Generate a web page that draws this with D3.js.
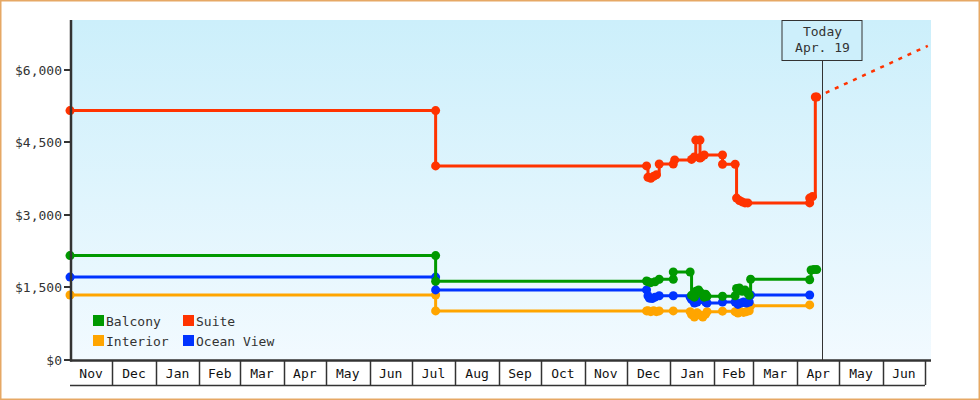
<!DOCTYPE html>
<html>
<head>
<meta charset="utf-8">
<script src="https://cdn.jsdelivr.net/npm/d3@7"></script>
<style>
  html, body { margin: 0; padding: 0; background: #fff; }
  svg { display: block; }
  text { font-family: "DejaVu Sans Mono", monospace; font-size: 13px; fill: #333; }
</style>
</head>
<body>
<svg id="chart" width="980" height="400"></svg>
<script>
// ---------- DATA ----------
const seriesNames = ["Balcony", "Suite", "Interior", "Ocean View"];
const seriesColors = ["#009900", "#ff3300", "#ffa500", "#0033ff"];

const balcony = [
  ["2011-11-01", 2160], ["2012-07-18", 2160], ["2012-07-18", 1630],
  ["2012-12-15", 1634], ["2012-12-16", 1620], ["2012-12-18", 1600], ["2012-12-21", 1620], ["2012-12-24", 1670],
  ["2013-01-03", 1670], ["2013-01-03", 1820],
  ["2013-01-15", 1820], ["2013-01-16", 1340], ["2013-01-18", 1300], ["2013-01-19", 1420], ["2013-01-21", 1450],
  ["2013-01-23", 1380], ["2013-01-25", 1300], ["2013-01-26", 1360], ["2013-01-27", 1320],
  ["2013-02-07", 1320], ["2013-02-16", 1330], ["2013-02-17", 1480], ["2013-02-19", 1490], ["2013-02-21", 1420],
  ["2013-02-23", 1450], ["2013-02-25", 1380], ["2013-02-26", 1340], ["2013-02-27", 1670],
  ["2013-04-10", 1660], ["2013-04-11", 1862], ["2013-04-13", 1870], ["2013-04-15", 1870]
];
const suite = [
  ["2011-11-01", 5160], ["2012-07-18", 5160], ["2012-07-18", 4015],
  ["2012-12-15", 4015], ["2012-12-16", 3780], ["2012-12-18", 3760], ["2012-12-20", 3800], ["2012-12-22", 3830],
  ["2012-12-24", 4055], ["2013-01-03", 4055], ["2013-01-04", 4140],
  ["2013-01-16", 4150], ["2013-01-18", 4200], ["2013-01-19", 4550], ["2013-01-22", 4550], ["2013-01-22", 4180],
  ["2013-01-23", 4200], ["2013-01-25", 4240],
  ["2013-02-07", 4240], ["2013-02-07", 4050], ["2013-02-16", 4050], ["2013-02-17", 3350],
  ["2013-02-19", 3300], ["2013-02-21", 3270], ["2013-02-23", 3250], ["2013-02-25", 3250],
  ["2013-04-10", 3250], ["2013-04-10", 3350], ["2013-04-12", 3380], ["2013-04-14", 5440], ["2013-04-15", 5440]
];
const interior = [
  ["2011-11-01", 1345], ["2012-07-18", 1345], ["2012-07-18", 1015],
  ["2012-12-15", 1015], ["2012-12-16", 1020], ["2012-12-18", 1000], ["2012-12-20", 1020], ["2012-12-22", 1000], ["2012-12-24", 1015],
  ["2013-01-03", 1015],
  ["2013-01-15", 1000], ["2013-01-16", 940], ["2013-01-18", 890], ["2013-01-20", 980], ["2013-01-22", 930],
  ["2013-01-24", 890], ["2013-01-26", 950], ["2013-01-27", 1000],
  ["2013-02-07", 1010], ["2013-02-16", 1000], ["2013-02-18", 970], ["2013-02-20", 1000], ["2013-02-22", 985],
  ["2013-02-24", 1000], ["2013-02-26", 1020], ["2013-02-27", 1120],
  ["2013-04-10", 1140]
];
const oceanView = [
  ["2011-11-01", 1715], ["2012-07-18", 1715], ["2012-07-18", 1450],
  ["2012-12-15", 1450], ["2012-12-16", 1330], ["2012-12-17", 1280], ["2012-12-19", 1270], ["2012-12-21", 1300], ["2012-12-24", 1330],
  ["2013-01-03", 1330],
  ["2013-01-15", 1300], ["2013-01-16", 1250], ["2013-01-18", 1180], ["2013-01-20", 1200], ["2013-01-23", 1250],
  ["2013-01-26", 1200], ["2013-01-27", 1180],
  ["2013-02-07", 1200], ["2013-02-16", 1200], ["2013-02-18", 1150], ["2013-02-20", 1180], ["2013-02-22", 1200],
  ["2013-02-24", 1180], ["2013-02-26", 1200], ["2013-02-27", 1345],
  ["2013-04-10", 1345]
];
const projection = [["2013-04-15", 5440], ["2013-07-03", 6500]];
const todayDate = "2013-04-19";
const todayLabel = ["Today", "Apr. 19"];
const yTicks = [0, 1500, 3000, 4500, 6000];
const xDomain = ["2011-11-01", "2013-07-01"];

// ---------- LAYOUT ----------
(function () {
const parse = d3.timeParse("%Y-%m-%d");
const svg = d3.select("#chart");
const pL = 70, pR = 931, pT = 20, pB = 360, axisBottom = 385;

const x = d3.scaleTime().domain(xDomain.map(parse)).range([70, 925]);
const y = d3.scaleLinear().domain([0, 7034]).range([pB, pT]);

// outer border
svg.append("rect").attr("x", 0.75).attr("y", 0.75).attr("width", 978.5).attr("height", 398.5)
  .attr("fill", "#fff").attr("stroke", "#e6a865").attr("stroke-width", 1.5);

// background gradient
const defs = svg.append("defs");
const grad = defs.append("linearGradient").attr("id", "bg").attr("x1", 0).attr("y1", 0).attr("x2", 0).attr("y2", 1);
grad.append("stop").attr("offset", "0%").attr("stop-color", "#ccefFB");
grad.append("stop").attr("offset", "100%").attr("stop-color", "#f2faff");
defs.append("clipPath").attr("id", "clip").append("rect")
  .attr("x", pL).attr("y", pT).attr("width", pR - pL).attr("height", pB - pT);

svg.append("rect").attr("x", pL).attr("y", pT).attr("width", pR - pL).attr("height", pB - pT)
  .attr("fill", "url(#bg)");

// today line & label
const tx = Math.round(x(parse(todayDate))) + 0.5;
svg.append("line").attr("x1", tx).attr("x2", tx).attr("y1", 61).attr("y2", pB)
  .attr("stroke", "#333").attr("stroke-width", 1);
svg.append("rect").attr("x", tx - 40.5).attr("y", 20.5).attr("width", 80).attr("height", 40)
  .attr("fill", "#cdeffb").attr("stroke", "#333").attr("stroke-width", 1);
todayLabel.forEach((t, i) => {
  svg.append("text").attr("x", tx).attr("y", 36 + i * 16).attr("text-anchor", "middle").text(t);
});

// series
const seriesData = [interior, oceanView, balcony, suite];
const seriesCol = ["#ffa500", "#0033ff", "#009900", "#ff3300"];
const line = d3.line().x(d => x(parse(d[0]))).y(d => y(d[1])).curve(d3.curveStepAfter);
const g = svg.append("g").attr("clip-path", "url(#clip)");

g.append("path").datum(projection).attr("d", d3.line().x(d => x(parse(d[0]))).y(d => y(d[1])))
  .attr("fill", "none").attr("stroke", "#ff3300").attr("stroke-width", 2.5).attr("stroke-dasharray", "4,6");

seriesData.forEach((data, i) => {
  g.append("path").datum(data).attr("d", line)
    .attr("fill", "none").attr("stroke", seriesCol[i]).attr("stroke-width", 3);
  g.selectAll(null).data(data).enter().append("circle")
    .attr("cx", d => x(parse(d[0]))).attr("cy", d => y(d[1])).attr("r", 4.5)
    .attr("fill", seriesCol[i]);
});
seriesData.forEach((data, i) => {
  svg.append("circle").attr("cx", x(parse(data[0][0]))).attr("cy", y(data[0][1])).attr("r", 4.5).attr("fill", seriesCol[i]);
});

// legend
const legendPos = [[93, 315], [183, 315], [93, 335], [183, 335]];
seriesNames.forEach((n, i) => {
  const [lx, ly] = legendPos[i];
  svg.append("rect").attr("x", lx).attr("y", ly).attr("width", 11).attr("height", 11).attr("fill", seriesColors[i]);
  svg.append("text").attr("x", lx + 13).attr("y", ly + 10.5).text(n);
});

// y axis
svg.append("line").attr("x1", 71).attr("x2", 71).attr("y1", pT).attr("y2", pB + 1.5)
  .attr("stroke", "#333").attr("stroke-width", 2.5);
yTicks.forEach(t => {
  const yy = Math.round(y(t));
  svg.append("line").attr("x1", 64).attr("x2", 71).attr("y1", yy).attr("y2", yy)
    .attr("stroke", "#333").attr("stroke-width", 2);
  svg.append("text").attr("x", 62).attr("y", yy + 4.5).attr("text-anchor", "end").text(d3.format("$,")(t));
});

// x axis
svg.append("line").attr("x1", 70).attr("x2", pR).attr("y1", pB + 0.5).attr("y2", pB + 0.5)
  .attr("stroke", "#333").attr("stroke-width", 2.5);
svg.append("line").attr("x1", 70).attr("x2", 925).attr("y1", axisBottom + 0.5).attr("y2", axisBottom + 0.5)
  .attr("stroke", "#333").attr("stroke-width", 1.5);
const months = d3.timeMonth.range(...x.domain());
const fmt = d3.timeFormat("%b");
months.forEach(m => {
  const x0 = x(m), x1 = x(d3.timeMonth.offset(m, 1));
  svg.append("line").attr("x1", Math.round(x1) + 0.5).attr("x2", Math.round(x1) + 0.5)
    .attr("y1", pB).attr("y2", axisBottom).attr("stroke", "#333").attr("stroke-width", 1.5);
  svg.append("text").attr("x", (x0 + x1) / 2).attr("y", 378).attr("text-anchor", "middle")
    .style("fill", "#111").text(fmt(m));
});
})();
</script>
</body>
</html>
